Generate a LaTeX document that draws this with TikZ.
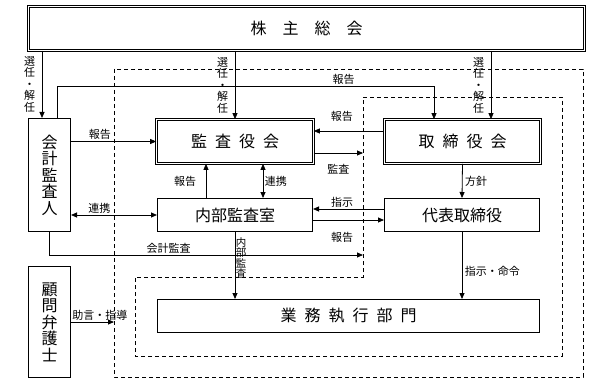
\documentclass[tikz,border=0pt]{standalone}
\usepackage{fontspec}
\setmainfont{Noto Sans CJK JP}
\usetikzlibrary{arrows.meta}

\tikzset{
  box/.style={draw, line width=0.8pt, inner sep=0pt, font=\fontsize{16}{16.5}\selectfont, align=center},
  dblbox/.style={box, line width=0.9pt, double, double distance=1.4pt},
  arr/.style={line width=0.8pt, ->},
  lbl/.style={font=\fontsize{11}{11.5}\selectfont, inner sep=1.5pt, align=center},
  dashbox/.style={line width=0.6pt, dash pattern=on 4pt off 3pt},
}

\begin{document}
\begin{tikzpicture}[x=1pt, y=-1pt, >={Triangle[length=6pt, width=5pt]}]
\useasboundingbox (0,0) rectangle (589,385); %Page size
\draw[dashbox] (114,69) rectangle (583,377); %Outer dashed area
\draw[dashbox] (363,97) -- (562,97) -- (562,356) -- (135,356) -- (135,277) -- (363,277) -- cycle; %Inner dashed area

\node[dblbox, minimum width=555.8pt, minimum height=43.8pt] (meeting) at (306.5,28.5) {株\quad 主\quad 総\quad 会}; %Shareholders
\node[dblbox, minimum width=156.8pt, minimum height=43.8pt] (kansa) at (235,141.5) {監\enskip 査\enskip 役\enskip 会};
\node[dblbox, minimum width=155.8pt, minimum height=43.8pt] (tori) at (462.5,141.5) {取\enskip 締\enskip 役\enskip 会};
\node[box, minimum width=155.2pt, minimum height=33.2pt] (naibu) at (235,215) {内部監査室};
\node[box, minimum width=155.2pt, minimum height=33.2pt] (daihyo) at (462,215) {代表取締役};
\node[box, minimum width=382.2pt, minimum height=33.2pt] (gyomu) at (348.5,316) {業\enskip 務\enskip 執\enskip 行\enskip 部\enskip 門};
\node[box, minimum width=42.2pt, minimum height=113.2pt] (kaikei) at (49.5,175) {会\\計\\監\\査\\人};
\node[box, minimum width=42.2pt, minimum height=111.2pt] (komon) at (49.5,322) {顧\\問\\弁\\護\\士};

\coordinate (kL) at ([xshift=-7.5pt]kaikei.north);
\coordinate (kR) at ([xshift=7.5pt]kaikei.north);
\coordinate (tL) at ([xshift=-28.5pt]tori.north);
\coordinate (tR) at ([xshift=28.5pt]tori.north);
\coordinate (nL) at ([xshift=-29pt]naibu.north);
\coordinate (nR) at ([xshift=28pt]naibu.north);
\coordinate (d1) at (363,153); %Audit arrow end
\coordinate (d2) at (363,255); %Accounting audit arrow end
\coordinate (d3) at (114,322); %Advice arrow end

%Election and dismissal
\draw[arr] (kL |- meeting.south) -- node[lbl, left=5pt] {選\\任\\・\\解\\任} (kL);
\draw[arr] (meeting.south -| kansa.north) -- node[lbl, left=5pt] {選\\任\\・\\解\\任} (kansa.north);
\draw[arr] (tR |- meeting.south) -- node[lbl, left=5pt] {選\\任\\・\\解\\任} (tR);

%Reports and audits
\draw[arr] (kR) -- ++(0,-32) -| node[lbl, above, pos=0.38] {報告} (tL);
\draw[arr] (kaikei.east |- kansa.west) -- node[lbl, above, pos=0.34] {報告} (kansa.west);
\draw[arr] ([yshift=10.5pt]tori.west) -- node[lbl, above=8pt, pos=0.6] {報告} ([yshift=10.5pt]kansa.east);
\draw[arr] (kansa.east |- d1) -- node[lbl, below=9pt] {監査} (d1);
\draw[arr] (nL) -- node[lbl, left=8pt] {報告} (nL |- kansa.south);
\draw[<->, line width=0.8pt] (nR) -- node[lbl, right=0pt] {連携} (nR |- kansa.south);
\draw[<->, line width=0.8pt] (kaikei.east |- naibu.west) -- node[lbl, above, pos=0.33] {連携} (naibu.west);
\draw[arr] ([yshift=6pt]daihyo.west) -- node[lbl, above, pos=0.59] {指示} ([yshift=6pt]naibu.east);
\draw[arr] ([yshift=-5pt]naibu.east) -- node[lbl, below=10pt, pos=0.41] {報告} ([yshift=-5pt]daihyo.west);
\draw[arr] (tori.south) -- node[lbl, right=1pt] {方針} (daihyo.north);
\draw[arr] (kaikei.south) |- node[lbl, above, pos=0.69] {会計監査} (d2);
\draw[arr] (naibu.south) -- node[lbl, right=0pt, pos=0.39, inner sep=0.5pt, font=\fontsize{10.5}{10.5}\selectfont] {内\\部\\監\\査} (naibu.south |- gyomu.north);
\draw[arr] (daihyo.south) -- node[lbl, right=1pt, pos=0.58] {指示・命令} (daihyo.south |- gyomu.north);
\draw[arr] (komon.east) -- node[lbl, above, pos=0.67] {助言・指導} (d3);
\end{tikzpicture}
\end{document}
